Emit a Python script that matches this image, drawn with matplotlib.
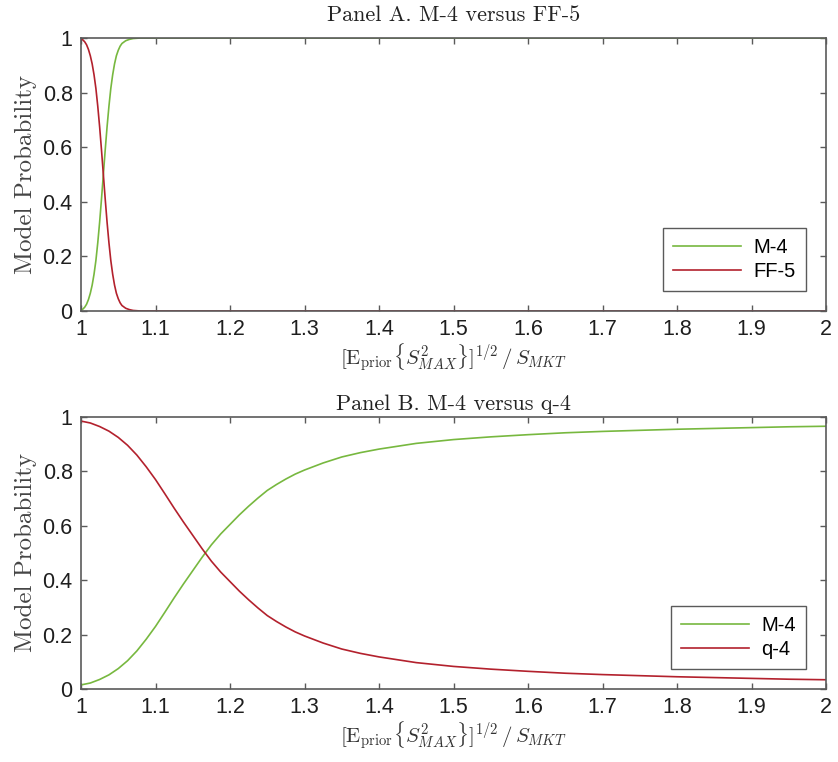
import matplotlib
matplotlib.use("Agg")
import matplotlib.pyplot as plt
from matplotlib.ticker import FormatStrFormatter

# Panel A: M-4 versus FF-5
xa = [1.0, 1.0025, 1.005, 1.0075, 1.01, 1.0125, 1.015, 1.0175, 1.02, 1.0225,
      1.025, 1.0275, 1.03, 1.0325, 1.035, 1.0375, 1.04, 1.0425, 1.045, 1.0475,
      1.05, 1.0525, 1.055, 1.06, 1.065, 1.07, 1.075, 1.08, 1.1, 2.0]
m4_a = [0.003, 0.007, 0.014, 0.025, 0.042, 0.065, 0.095, 0.135, 0.185, 0.25,
        0.325, 0.41, 0.5, 0.59, 0.675, 0.75, 0.815, 0.865, 0.905, 0.935,
        0.955, 0.97, 0.98, 0.99, 0.995, 0.998, 0.999, 1.0, 1.0, 1.0]
ff5_a = [0.997, 0.993, 0.986, 0.975, 0.958, 0.935, 0.905, 0.865, 0.815, 0.75,
         0.675, 0.59, 0.5, 0.41, 0.325, 0.25, 0.185, 0.135, 0.095, 0.065,
         0.045, 0.03, 0.02, 0.01, 0.005, 0.002, 0.001, 0.0, 0.0, 0.0]

# Panel B: M-4 versus q-4
xb = [1.0, 1.0125, 1.025, 1.0375, 1.05, 1.0625, 1.075, 1.0875, 1.1, 1.1125,
      1.125, 1.1375, 1.15, 1.1625, 1.175, 1.1875, 1.2, 1.2125, 1.225, 1.2375,
      1.25, 1.2625, 1.275, 1.2875, 1.3, 1.325, 1.35, 1.375, 1.4, 1.45,
      1.5, 1.55, 1.6, 1.65, 1.7, 1.75, 1.8, 1.85, 1.9, 1.95, 2.0]
m4_b = [0.015, 0.022, 0.035, 0.052, 0.075, 0.104, 0.14, 0.183, 0.23, 0.282,
        0.335, 0.386, 0.435, 0.484, 0.53, 0.57, 0.605, 0.64, 0.672, 0.702,
        0.73, 0.752, 0.772, 0.79, 0.805, 0.831, 0.853, 0.869, 0.882, 0.903,
        0.917, 0.927, 0.935, 0.942, 0.947, 0.951, 0.955, 0.958, 0.961, 0.964, 0.966]
q4_b = [0.985, 0.978, 0.965, 0.948, 0.925, 0.896, 0.86, 0.817, 0.77, 0.718,
        0.665, 0.614, 0.565, 0.516, 0.47, 0.43, 0.395, 0.36, 0.328, 0.298,
        0.27, 0.248, 0.228, 0.21, 0.195, 0.169, 0.147, 0.131, 0.118, 0.097,
        0.083, 0.073, 0.065, 0.058, 0.053, 0.049, 0.045, 0.042, 0.039, 0.036, 0.034]

xticks = [1, 1.1, 1.2, 1.3, 1.4, 1.5, 1.6, 1.7, 1.8, 1.9, 2]
yticks = [0, 0.2, 0.4, 0.6, 0.8, 1]

GREEN = "#77b83f"
RED = "#b3212d"
AXC = "#5a5a5a"

plt.rcParams["mathtext.fontset"] = "cm"
plt.rcParams["font.family"] = "Liberation Sans"

fig = plt.figure(figsize=(8.38, 7.62), dpi=100)
ax1 = fig.add_axes([81 / 838, 1 - 311 / 762, 745 / 838, 273 / 762])
ax2 = fig.add_axes([81 / 838, 1 - 689 / 762, 745 / 838, 272 / 762])

xlab = r"$[\mathrm{E}_{\mathrm{prior}}\{S^2_{MAX}\}]^{1/2}\,/\,S_{MKT}$"

panels = [
    (ax1, xa, m4_a, ff5_a, "FF-5", "Panel A. M-4 versus FF-5", 12),
    (ax2, xb, m4_b, q4_b, "q-4", "Panel B. M-4 versus q-4", 5),
]

for ax, x, g, r, rname, title, tpad in panels:
    ax.plot(x, g, color=GREEN, lw=1.2, label="M-4")
    ax.plot(x, r, color=RED, lw=1.2, label=rname)
    ax.set_xlim(1, 2)
    ax.set_ylim(0, 1)
    ax.set_xticks(xticks)
    ax.set_yticks(yticks)
    ax.xaxis.set_major_formatter(FormatStrFormatter("%g"))
    ax.yaxis.set_major_formatter(FormatStrFormatter("%g"))
    ax.tick_params(direction="in", top=True, right=True, length=4, width=1,
                   color=AXC, labelsize=15.5, labelcolor="#1e1e1e", pad=6)
    for s in ax.spines.values():
        s.set_color(AXC)
        s.set_linewidth(1.2)
    ax.set_title(title, family="cmr10", fontsize=16, color="#222222", pad=tpad)
    ax.set_xlabel(xlab, fontsize=15, color="#333333", labelpad=1)
    ax.set_ylabel("Model Probability", family="cmr10", fontsize=18,
                  color="#444444", labelpad=4)
    leg = ax.legend(loc="lower right", fontsize=14.5, handlelength=3.4,
                    fancybox=False, framealpha=1, edgecolor=AXC,
                    borderaxespad=1.0, borderpad=0.5, labelspacing=0.25,
                    handletextpad=0.6)
    leg.get_frame().set_linewidth(1.0)

fig.savefig("out.png", dpi=100)
